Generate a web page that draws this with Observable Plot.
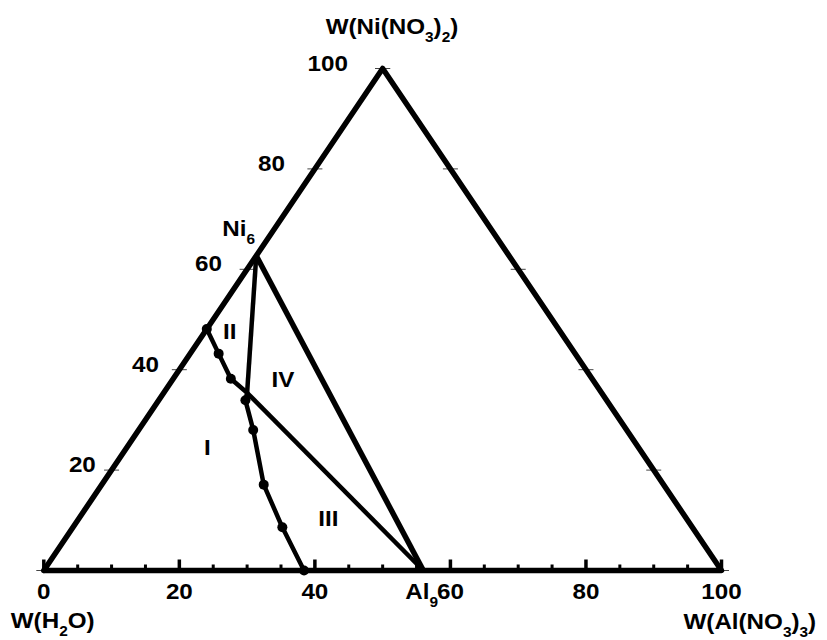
<!DOCTYPE html>
<html><head><meta charset="utf-8">
<script src="https://cdn.jsdelivr.net/npm/d3@7"></script>
<script src="https://cdn.jsdelivr.net/npm/@observablehq/plot@0.6"></script>
<style>body{margin:0;background:#fff} #chart svg{display:block}</style>
</head><body><div id="chart"></div>
<script>
// Solubility isotherm, mass %: W(Al(NO3)3) and W(Ni(NO3)2)
const solAl = [0, 4.2, 8.5, 12.8, 16.9, 23.9, 30.9, 38.4];
const solNi = [48.1, 43.2, 38.2, 33.9, 28.0, 17.1, 8.6, 0];
// eutonic (joint saturation) point
const eutonicAl = 12.3;
const eutonicNi = 35.4;
// solid phases (crystal hydrates)
const phaseNames = ["Ni_6", "Al_9"];
const phaseAl = [0, 56];
const phaseNi = [62.7, 0];
// region labels
const regionNames = ["I", "II", "III", "IV"];
const regionAl = [11.9, 3.7, 36.9, 16.3];
const regionNi = [24.5, 47.5, 10.2, 38.0];
// ticks
const majorTicks = [0, 20, 40, 60, 80, 100];
const minorTicks = [5, 10, 15, 25, 30, 35, 45, 50, 55, 65, 70, 75, 85, 90, 95];
const sideTicks = [0, 20, 40, 60, 80, 100];
const sideLabels = [20, 40, 60, 80, 100];
const titleNi = "W(Ni(NO_3)_2)";
const titleH2O = "W(H_2O)";
const titleAl = "W(Al(NO_3)_3)";

// ternary -> cartesian (x along base, y = Ni fraction)
const tx = (al, ni) => al + ni / 2;

const solPts = solAl.map((a, i) => ({al: a, ni: solNi[i]}));
const eut = {al: eutonicAl, ni: eutonicNi};
const curvePts = [...solPts.filter(p => p.ni > eutonicNi), eut, ...solPts.filter(p => p.ni < eutonicNi)];
const phases = phaseNames.map((n, i) => ({name: n, al: phaseAl[i], ni: phaseNi[i]}));
const ni6 = phases[0], al9 = phases[1];
const corners = [{al: 0, ni: 0}, {al: 0, ni: 100}, {al: 100, ni: 0}, {al: 0, ni: 0}];
const tieLines = [[ni6, al9, 5.5], [ni6, eut, 4.5], [eut, al9, 4.5]];
const regions = regionNames.map((n, i) => ({name: n, al: regionAl[i], ni: regionNi[i]}));

const hTick = {draw(ctx, size) { const r = Math.sqrt(size / Math.PI); ctx.moveTo(-r, 0); ctx.lineTo(r, 0); }};
const upTick = {draw(ctx, size) { const r = Math.sqrt(size / Math.PI); ctx.moveTo(0, 0); ctx.lineTo(0, -r); }};

const F = 22;
const txt = {fontSize: F, fontWeight: "bold", fill: "black"};

const svg = Plot.plot({
  width: 827, height: 640,
  marginLeft: 43.3, marginRight: 106, marginTop: 68, marginBottom: 70,
  x: {domain: [0, 100], axis: null},
  y: {domain: [0, 100], axis: null},
  style: {fontFamily: "'Liberation Sans', Arial, sans-serif", background: "white"},
  marks: [
    // edge ticks (horizontal, centred on edges)
    Plot.dot(sideTicks, {x: d => tx(0, d), y: d => d, symbol: hTick, r: 7.5, stroke: "#444", strokeWidth: 1, fill: "none"}),
    Plot.dot(sideTicks, {x: d => tx(100 - d, d), y: d => d, symbol: hTick, r: 7.5, stroke: "#444", strokeWidth: 1, fill: "none"}),
    // bottom axis ticks
    Plot.dot(majorTicks, {x: d => d, y: 0, symbol: upTick, r: 11, stroke: "black", strokeWidth: 3.5, fill: "none"}),
    Plot.dot(minorTicks, {x: d => d, y: 0, symbol: upTick, r: 6, stroke: "black", strokeWidth: 3, fill: "none"}),
    // triangle
    Plot.line(corners, {x: d => tx(d.al, d.ni), y: "ni", stroke: "black", strokeWidth: 5.5, strokeLinejoin: "round"}),
    // tie lines
    ...tieLines.map(([a, b, w]) => Plot.link([[a, b]], {
      x1: d => tx(d[0].al, d[0].ni), y1: d => d[0].ni,
      x2: d => tx(d[1].al, d[1].ni), y2: d => d[1].ni,
      stroke: "black", strokeWidth: w})),
    // solubility curve
    Plot.line(curvePts, {x: d => tx(d.al, d.ni), y: "ni", stroke: "black", strokeWidth: 4.5}),
    Plot.dot(solPts, {x: d => tx(d.al, d.ni), y: "ni", r: 5, fill: "black"}),
    // bottom tick labels
    Plot.text(majorTicks, {x: d => d, y: 0, text: d => String(d), dy: 21, ...txt}),
    // left tick labels
    Plot.text(sideLabels, {x: d => d * 0.465, y: d => d, text: d => String(d), textAnchor: "end", dx: -11, dy: -5, ...txt}),
    // phase labels
    Plot.text([ni6], {x: d => tx(d.al, d.ni), y: "ni", text: "name", textAnchor: "start", dx: -34, dy: -27, ...txt}),
    Plot.text([al9], {x: d => tx(d.al, d.ni), y: "ni", text: "name", textAnchor: "start", dx: -18, dy: 21, ...txt}),
    // region labels
    Plot.text(regions, {x: d => tx(d.al, d.ni), y: "ni", text: "name", ...txt}),
    // axis titles
    Plot.text([titleNi], {x: 50, y: 100, text: d => d, textAnchor: "start", dx: -57, dy: -42, ...txt}),
    Plot.text([titleH2O], {x: 0, y: 0, text: d => d, textAnchor: "start", dx: -33, dy: 50, ...txt}),
    Plot.text([titleAl], {x: 100, y: 0, text: d => d, textAnchor: "start", dx: -38, dy: 51, ...txt})
  ]
});

// subscripts and horizontal stretch of the lettering
const NS = "http://www.w3.org/2000/svg";
svg.querySelectorAll("text").forEach(t => {
  const s = t.textContent;
  if (s.includes("_")) {
    t.textContent = "";
    const parts = s.split(/_(\{[^}]*\}|.)/);
    parts.forEach((p, i) => {
      if (!p) return;
      const ts = document.createElementNS(NS, "tspan");
      if (i % 2) {
        ts.textContent = p.replace(/[{}]/g, "");
        ts.setAttribute("dy", "8");
        ts.setAttribute("font-size", "14");
      } else {
        ts.textContent = p;
        if (i > 0) ts.setAttribute("dy", "-8");
      }
      t.appendChild(ts);
    });
  }
  const x = +t.getAttribute("x") || 0, y = +t.getAttribute("y") || 0;
  const tr = t.getAttribute("transform") || "";
  t.setAttribute("transform", `${tr} translate(${x},${y}) scale(1.1,1) translate(${-x},${-y})`);
});

document.getElementById("chart").appendChild(svg);
</script>
</body></html>
